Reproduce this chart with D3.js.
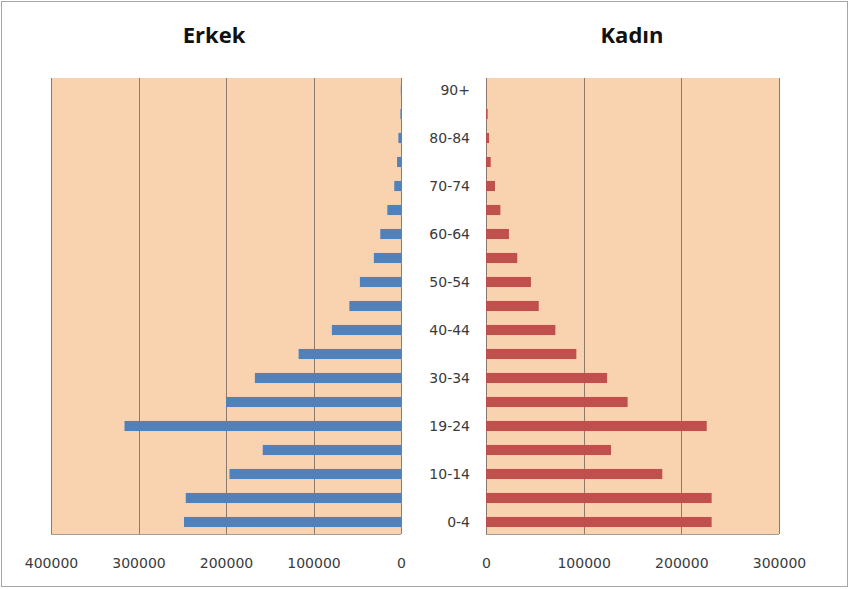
<!DOCTYPE html>
<html>
<head>
<meta charset="utf-8">
<script src="https://cdn.jsdelivr.net/npm/d3@7"></script>
<style>
  body { margin: 0; background: #fff; }
  svg { display: block; }
  text { font-family: "DejaVu Sans", "Noto Sans", sans-serif; }
</style>
</head>
<body>
<script>
// age groups, bottom to top
const ageGroups = ["0-4", "5-9", "10-14", "15-18", "19-24", "25-29", "30-34", "35-39", "40-44",
  "45-49", "50-54", "55-59", "60-64", "65-69", "70-74", "75-79", "80-84", "85-89", "90+"]
const shownLabels = ["0-4", "10-14", "19-24", "30-34", "40-44", "50-54", "60-64", "70-74", "80-84", "90+"]

const erkek = [248000, 246000, 196000, 158000, 316000, 200000, 167000, 117000, 79000,
  59000, 47000, 31000, 23700, 15600, 7700, 4500, 3000, 700, 200]
const kadin = [231000, 231000, 180500, 128000, 226000, 145000, 124000, 92500, 71000,
  54000, 46000, 32000, 23500, 14700, 9200, 4800, 3100, 1700, 200]

const leftTicks = [400000, 300000, 200000, 100000, 0]
const rightTicks = [0, 100000, 200000, 300000]

const width = 851, height = 589
const svg = d3.select("body").append("svg").attr("width", width).attr("height", height)

// outer frame
svg.append("rect").attr("x", 1.5).attr("y", 1.5).attr("width", 846).attr("height", 585)
  .attr("fill", "#fff").attr("stroke", "#a6a6a6")

const plotTop = 78, plotBottom = 534
const y = d3.scaleBand().domain(ageGroups.slice().reverse()).range([plotTop, plotBottom]).paddingInner(0.58).paddingOuter(0.29)
const yLab = d3.scaleBand().domain(ageGroups.slice().reverse()).range([plotTop, plotBottom])

const xLeft = d3.scaleLinear().domain([400000, 0]).range([51, 401])
const xRight = d3.scaleLinear().domain([0, 300000]).range([486, 779])

const fill = "#f9d3b0", grid = "#8c7b6b", blue = "#4f81bd", red = "#c0504d"

function panel(x, ticks, values, color, reverse) {
  const g = svg.append("g")
  const [x0, x1] = d3.extent(x.range())
  g.append("rect").attr("x", x0).attr("y", plotTop).attr("width", x1 - x0).attr("height", plotBottom - plotTop)
    .attr("fill", fill)
  g.selectAll("line.grid").data(ticks).enter().append("line")
    .attr("class", "grid")
    .attr("x1", d => Math.round(x(d)) + 0.5).attr("x2", d => Math.round(x(d)) + 0.5)
    .attr("y1", plotTop).attr("y2", plotBottom)
    .attr("stroke", grid).attr("stroke-width", 1)
  g.selectAll("rect.bar").data(values).enter().append("rect")
    .attr("class", "bar")
    .attr("x", d => reverse ? x(d) : x(0))
    .attr("width", d => Math.abs(x(d) - x(0)))
    .attr("y", (d, i) => y(ageGroups[i]))
    .attr("height", y.bandwidth())
    .attr("fill", color)
  // bottom axis
  const axis = d3.axisBottom(x).tickValues(ticks).tickSize(0).tickPadding(0).tickFormat(d3.format("d"))
  const ax = g.append("g").attr("transform", `translate(0,${plotBottom})`).call(axis)
  ax.select(".domain").attr("stroke", "#a0a0a0").attr("d", `M${x0},0.5H${x1}`)
  ax.selectAll("text").attr("dy", 0).attr("y", 34).attr("font-size", 14).attr("fill", "#3a3a3a")
}

panel(xLeft, leftTicks, erkek, blue, true)
panel(xRight, rightTicks, kadin, red, false)

// category labels in the middle
svg.append("g").selectAll("text").data(shownLabels).enter().append("text")
  .attr("x", 470).attr("y", d => yLab(d) + yLab.bandwidth() / 2)
  .attr("dy", "0.35em").attr("text-anchor", "end")
  .attr("font-size", 14).attr("fill", "#3a3a3a")
  .text(d => d)

// titles
svg.append("text").attr("x", 214).attr("y", 43).attr("text-anchor", "middle")
  .attr("font-size", 22).attr("font-weight", "bold").attr("fill", "#111")
  .style("font-family", "'Open Sans', sans-serif").text("Erkek")
svg.append("text").attr("x", 632).attr("y", 43).attr("text-anchor", "middle")
  .attr("font-size", 22).attr("font-weight", "bold").attr("fill", "#111")
  .style("font-family", "'Open Sans', sans-serif").text("Kadın")
</script>
</body>
</html>
